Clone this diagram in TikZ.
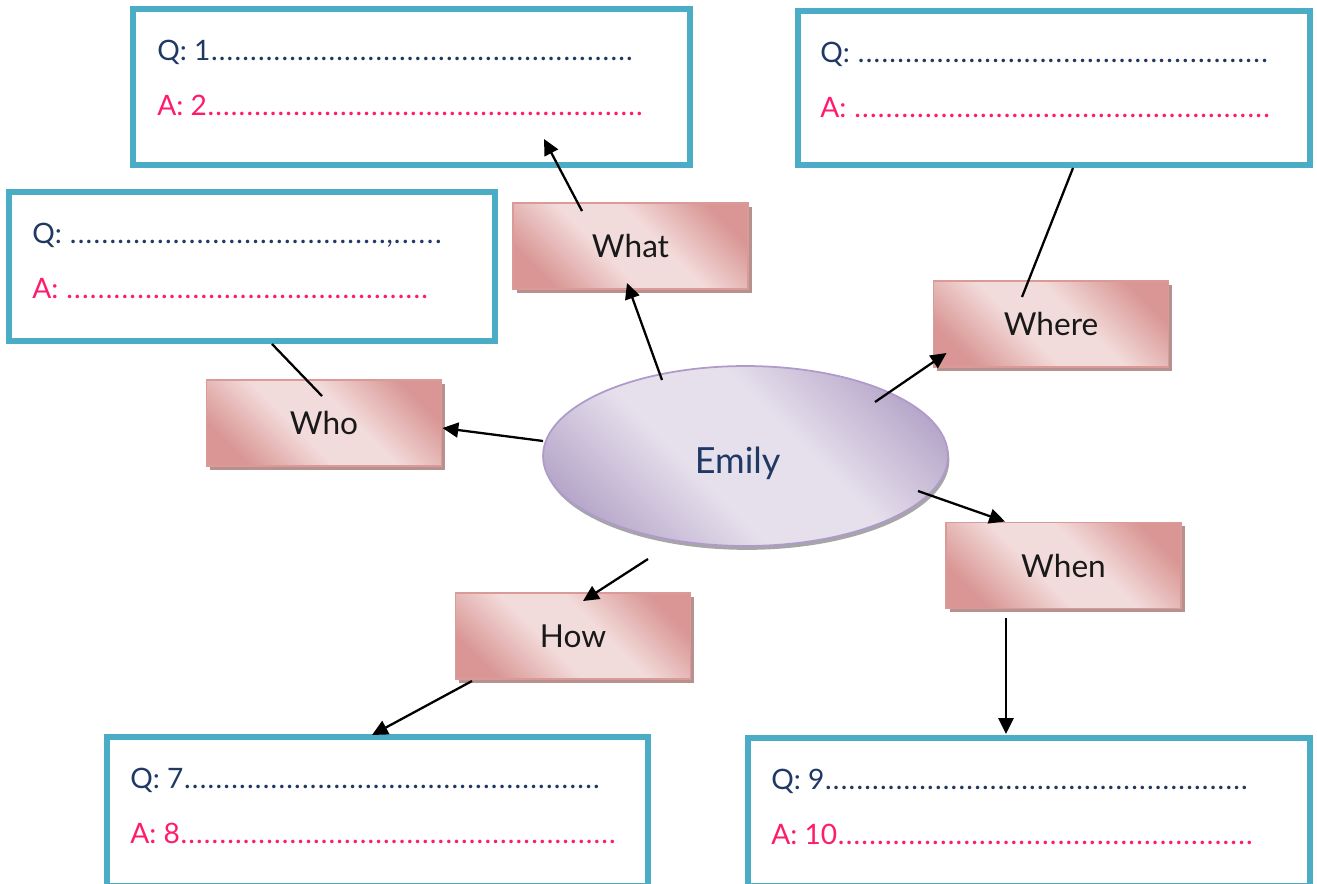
\documentclass[tikz,border=0pt]{standalone}
\usepackage{fontspec}
\setmainfont{Lato}
\usepackage{xcolor}
\usetikzlibrary{arrows.meta, positioning, calc, shadows, shapes.geometric}

\definecolor{qblue}{HTML}{1F3864}
\definecolor{apink}{HTML}{FF1A6C}
\definecolor{boxteal}{HTML}{4BACC6}
\definecolor{rosedark}{HTML}{D99694}
\definecolor{roselight}{HTML}{F2DCDB}
\definecolor{roseline}{HTML}{DA9A98}
\definecolor{roseshadow}{HTML}{B79090}
\definecolor{lilacdark}{HTML}{B3A2C7}
\definecolor{lilaclight}{HTML}{E6E0EC}
\definecolor{lilacline}{HTML}{AE9BCB}

\pgfdeclareverticalshading{rosewash}{100bp}{color(0bp)=(rosedark); color(24bp)=(rosedark);
  color(43bp)=(roselight); color(57bp)=(roselight); color(76bp)=(rosedark); color(100bp)=(rosedark)}
\pgfdeclareverticalshading{lilacwash}{100bp}{color(0bp)=(lilacdark); color(22bp)=(lilacdark);
  color(42bp)=(lilaclight); color(58bp)=(lilaclight); color(78bp)=(lilacdark); color(100bp)=(lilacdark)}

\newlength{\pxu}
\setlength{\pxu}{0.5669pt}
\newcommand{\dotfillto}{\xleaders\hbox to 4.42pt{\hss.\hss}\hfill}
\newcommand{\dotrun}[1]{\xleaders\hbox to 4.42pt{\hss.\hss}\hskip #1\pxu\relax}
\newcommand{\qaline}[2]{\hbox to #1\pxu{#2\dotfillto}}

\tikzset{
  qabox/.style={draw=boxteal, line width=3.4pt, fill=white, inner sep=0pt, outer sep=0pt},
  wbox/.style={rectangle, draw=roseline, line width=0.9pt,
    shading=rosewash, shading angle=-45,
    minimum width=4.7cm, minimum height=1.72cm, inner sep=0pt, outer sep=0pt,
    drop shadow={shadow xshift=2pt, shadow yshift=-2pt, fill=roseshadow, opacity=1},
    text=black!90, font=\fontsize{18}{20}\selectfont},
  hub/.style={ellipse, draw=lilacline, line width=1pt,
    shading=lilacwash, shading angle=-45,
    minimum width=8.1cm, minimum height=3.6cm, inner sep=0pt, outer sep=0pt,
    drop shadow={shadow xshift=0.8pt, shadow yshift=-2.2pt, fill=black!35, opacity=1},
    text=qblue, font=\fontsize{20.5}{22}\selectfont, text height=24pt, text depth=4pt},
  qline/.style={anchor=base west, inner sep=0pt, text=qblue, font=\fontsize{16}{18}\selectfont},
  aline/.style={qline, text=apink},
  link/.style={line width=1.3pt, -{Triangle[length=9pt, width=8.5pt]}},
  tie/.style={line width=1.3pt}
}

\begin{document}
\begin{tikzpicture}[x=0.02cm, y=-0.02cm]
\useasboundingbox (0,0) rectangle (1317,883);

% question and answer boxes
\node[qabox, minimum width=11.14cm, minimum height=3.12cm] (qwhat) at (411.5,87) {};
\node[qabox, minimum width=10.24cm, minimum height=3.08cm] (qwhere) at (1054,88) {};
\node[qabox, minimum width=9.72cm, minimum height=2.98cm] (qwho) at (252,266.5) {};
\node[qabox, minimum width=10.82cm, minimum height=2.98cm] (qhow) at (377.5,811.5) {};
\node[qabox, minimum width=11.24cm, minimum height=2.96cm] (qwhen) at (1029,812) {};

\node[qline] (qwhat-q) at ($(qwhat.north west)+(24,51)$) {\qaline{478}{Q: 1}};
\node[aline] (qwhat-a) at ($(qwhat.north west)+(24,106)$) {\qaline{488}{A: 2}};
\node[qline] (qwhere-q) at ($(qwhere.north west)+(22,51)$) {\qaline{450}{Q: }};
\node[aline] (qwhere-a) at ($(qwhere.north west)+(22,106)$) {\qaline{452}{A: }};
\node[qline] (qwho-q) at ($(qwho.north west)+(23,51)$) {\hbox to 412\pxu{Q: \dotfillto,\dotrun{50}}};
\node[aline] (qwho-a) at ($(qwho.north west)+(23,106)$) {\qaline{398}{A: }};
\node[qline] (qhow-q) at ($(qhow.north west)+(23,51)$) {\qaline{472}{Q: 7}};
\node[aline] (qhow-a) at ($(qhow.north west)+(23,106)$) {\qaline{488}{A: 8}};
\node[qline] (qwhen-q) at ($(qwhen.north west)+(23,51)$) {\qaline{479}{Q: 9}};
\node[aline] (qwhen-a) at ($(qwhen.north west)+(23,106)$) {\qaline{484}{A: 10}};

% centre and question words
\node[hub] (ell) at (745.5,456) {Emily\hspace*{9pt}};
\node[wbox] (what) at (630.5,246) {What};
\node[wbox] (where) at (1051,324) {Where};
\node[wbox] (who) at (324,423) {Who};
\node[wbox] (when) at (1063.5,565.5) {When};
\node[wbox] (how) at (573,636) {How};

% connectors
\draw[link] ($(ell.center)+(-83.5,-76)$) -- ($(what.south)+(-3.5,-6)$);
\draw[link] ($(what.north)+(-48.5,8)$) -- ($(qwhat.south)+(132.5,-26)$);
\draw[link] ($(ell.center)+(129.5,-54)$) -- ($(where.south west)+(13,-14)$);
\draw[tie] ($(where.north)+(-29,16)$) -- ($(qwhere.south)+(19,3)$);
\draw[link] ($(ell.west)+(0,-15)$) -- ($(who.east)+(1,5)$);
\draw[tie] ($(who.north)+(-2,16)$) -- ($(qwho.south)+(20,3)$);
\draw[link] ($(ell.center)+(172.5,35)$) -- ($(when.north)+(-58.5,-1)$);
\draw[link] ($(when.south)+(-57.5,9)$) -- ($(qwhen.north)+(-23,-4)$);
\draw[link] ($(ell.south)+(-97.5,13)$) -- ($(how.north)+(10,8)$);
\draw[link] ($(how.south)+(-101,2)$) -- ($(qhow.north)+(-5.5,-2)$);
\end{tikzpicture}
\end{document}
